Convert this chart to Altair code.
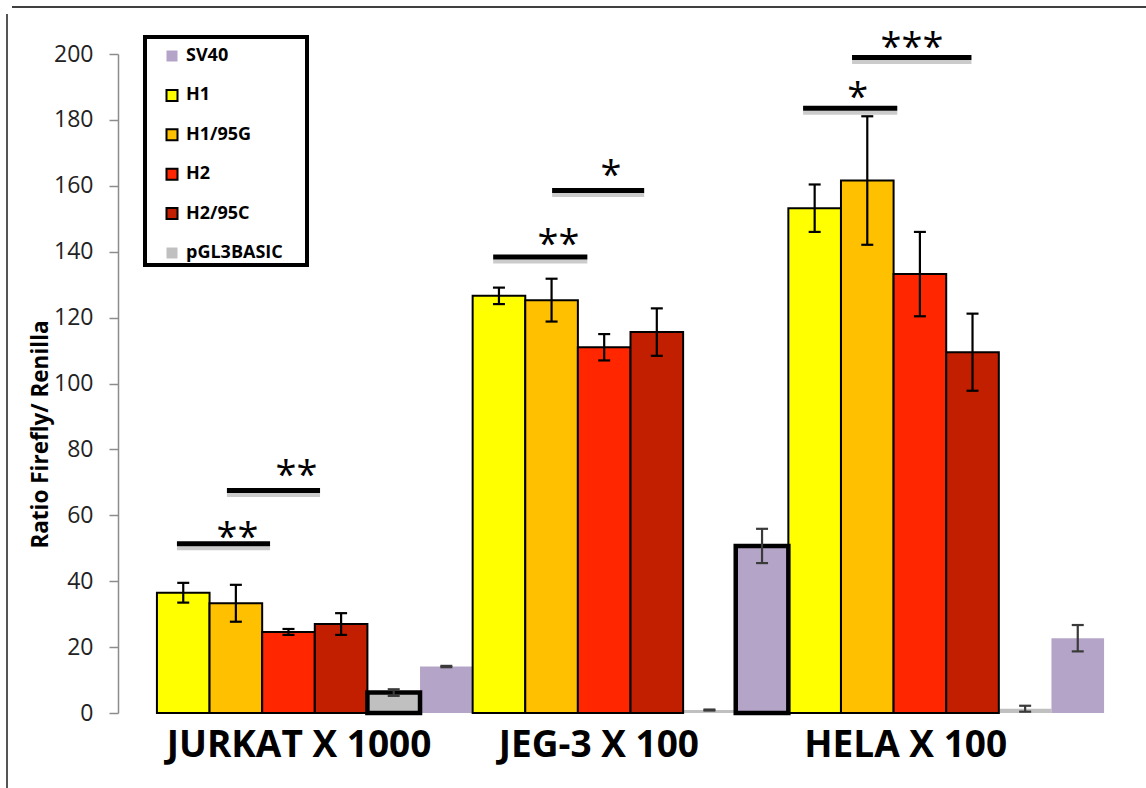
import altair as alt
import pandas as pd

# ---------------- data ----------------
GROUPS = ["JURKAT X 1000", "JEG-3 X 100", "HELA X 100"]
SERIES = ["H1", "H1/95G", "H2", "H2/95C", "pGL3BASIC", "SV40"]          # slot order inside each group
LEGEND_ORDER = ["SV40", "H1", "H1/95G", "H2", "H2/95C", "pGL3BASIC"]
FILL_COLORS = ["#b4a5c8", "#ffff00", "#ffc000", "#ff2600", "#c21e00", "#c0c0c0"]  # in legend order
EDGE_COLORS = ["transparent", "black", "black", "black", "black", "transparent"]

JURKAT_MEAN = [36.5, 33.3, 24.6, 27.0, 6.2, 14.1]
JURKAT_ERR = [3.0, 5.6, 0.9, 3.3, 1.0, 0.2]
JEG3_MEAN = [126.6, 125.3, 111.0, 115.6, 0.9, 50.7]
JEG3_ERR = [2.5, 6.5, 4.0, 7.2, 0.15, 5.2]
HELA_MEAN = [153.2, 161.6, 133.2, 109.5, 1.3, 22.7]
HELA_ERR = [7.2, 19.5, 12.8, 11.7, 0.9, 4.0]

# bars drawn with a heavy outline / without outline (group index, series)
THICK_EDGE = [(0, "pGL3BASIC"), (1, "SV40")]
NO_EDGE = [(0, "SV40"), (1, "pGL3BASIC"), (2, "pGL3BASIC"), (2, "SV40")]

# significance brackets (x in bar-slot units, y in data units)
SIG_X1 = [-0.12, 0.83, 5.89, 7.01, 11.78, 12.71]
SIG_X2 = [1.65, 2.60, 7.68, 8.76, 13.57, 14.98]
SIG_Y = [51.4, 67.5, 138.4, 158.6, 183.5, 198.9]
STAR_X = [1.03, 2.15, 7.13, 8.13, 12.82, 13.85]
STAR_Y = [55.7, 74.4, 144.5, 165.6, 189.1, 204.3]
STAR_TEXT = ["**", "**", "**", "*", "*", "***"]

# group captions
LABEL_X = [2.20, 7.90, 13.73]
LABEL_Y = [-13.35, -13.35, -13.35]

Y_TICKS = list(range(0, 201, 20))

# ---------------- tables ----------------
rows = []
for g, (means, errs) in enumerate([(JURKAT_MEAN, JURKAT_ERR), (JEG3_MEAN, JEG3_ERR), (HELA_MEAN, HELA_ERR)]):
    for s, name in enumerate(SERIES):
        if (g, name) in THICK_EDGE:
            edge = "thick"
        elif (g, name) in NO_EDGE:
            edge = "none"
        else:
            edge = "thin"
        rows.append(dict(group=GROUPS[g], series=name, slot=6 * g + s,
                         value=means[s], err=errs[s], edge=edge))
df = pd.DataFrame(rows)
sig = pd.DataFrame(dict(x1=SIG_X1, x2=SIG_X2, y=SIG_Y, sx=STAR_X, sy=STAR_Y, txt=STAR_TEXT))
labels = pd.DataFrame(dict(x=LABEL_X, y=LABEL_Y, txt=GROUPS))
legend_df = pd.DataFrame(dict(series=LEGEND_ORDER))
one = pd.DataFrame(dict(a=[0]))

FONT = "Open Sans"
xscale = alt.Scale(domain=[-1.24, 18.24], nice=False, zero=False)
yscale = alt.Scale(domain=[0, 200], nice=False)
fill_scale = alt.Scale(domain=LEGEND_ORDER, range=FILL_COLORS)
stroke_scale = alt.Scale(domain=LEGEND_ORDER, range=EDGE_COLORS)

base = alt.Chart(df).transform_calculate(
    x0="datum.slot - 0.5", x1="datum.slot + 0.5", zero="0",
    lo="datum.value - datum.err", hi="datum.value + datum.err",
    errc="(datum.series == 'SV40' || datum.series == 'pGL3BASIC') ? '#3a3a3a' : '#000000'",
)

y_axis = alt.Axis(
    values=Y_TICKS, grid=False, tickSize=9, tickWidth=1.5, tickColor="#8c8c8c",
    domainColor="#8c8c8c", domainWidth=1.5, labelFont=FONT, labelFontSize=23,
    labelColor="#222222", labelPadding=16,
    title="Ratio Firefly/ Renilla", titleFont=FONT, titleFontSize=22.5, titleFontWeight="bold",
    titleColor="black", titleX=-71, titleY=380, titleAngle=270, titleBaseline="alphabetic",
    titleAlign="center",
)


def X(field):
    return alt.X(field, scale=xscale, axis=None)


def Y(field):
    return alt.Y(field, scale=yscale, axis=y_axis)


def bar_layer(kind, **mk):
    return base.transform_filter(f"datum.edge == '{kind}'").mark_rect(**mk).encode(
        x=X("x0:Q"), x2="x1:Q",
        y=Y("value:Q"), y2="zero:Q",
        fill=alt.Fill("series:N", scale=fill_scale, legend=None),
    )


bars_none = bar_layer("none")
bars_thin = bar_layer("thin", stroke="black", strokeWidth=2)
bars_thick = bar_layer("thick", stroke="black", strokeWidth=4.5)

err_v = base.mark_rule(strokeWidth=2.2).encode(
    x=X("slot:Q"), y=Y("lo:Q"), y2="hi:Q",
    color=alt.Color("errc:N", scale=None),
)
err_top = base.mark_rule(strokeWidth=2.2, xOffset=-6, x2Offset=6).encode(
    x=X("slot:Q"), x2="slot:Q", y=Y("hi:Q"),
    color=alt.Color("errc:N", scale=None),
)
err_bot = base.mark_rule(strokeWidth=2.2, xOffset=-6, x2Offset=6).encode(
    x=X("slot:Q"), x2="slot:Q", y=Y("lo:Q"),
    color=alt.Color("errc:N", scale=None),
)

sig_base = alt.Chart(sig)
sig_shadow = sig_base.mark_rule(color="#cbcbcb", strokeWidth=4, yOffset=4.5).encode(
    x=X("x1:Q"), x2="x2:Q", y=Y("y:Q"),
)
sig_line = sig_base.mark_rule(color="black", strokeWidth=5).encode(
    x=X("x1:Q"), x2="x2:Q", y=Y("y:Q"),
)
stars = sig_base.mark_text(font=FONT, fontSize=38, baseline="alphabetic", dy=20.5,
                           align="center", color="black").encode(
    x=X("sx:Q"), y=Y("sy:Q"), text="txt:N",
)

group_text = alt.Chart(labels).mark_text(font=FONT, fontSize=37, fontWeight="bold",
                                         baseline="alphabetic", align="center",
                                         color="black").encode(
    x=X("x:Q"), y=Y("y:Q"), text="txt:N",
)

# legend frame and outer figure frame (decoration)
legend_box = alt.Chart(one).mark_rect(fill="white", stroke="black", strokeWidth=4).encode(
    x=alt.value(27), x2=alt.value(189), y=alt.value(-17), y2=alt.value(211)
)
frame_top = alt.Chart(one).mark_rule(color="black", strokeWidth=1.5).encode(
    x=alt.value(-106), x2=alt.value(1030), y=alt.value(-47)
)
frame_left = alt.Chart(one).mark_rule(color="#555555", strokeWidth=2).encode(
    x=alt.value(-111), y=alt.value(-40), y2=alt.value(740)
)

legend_kw = dict(orient="none", legendX=45, legendY=-7, title=None, symbolType="square",
                 symbolSize=121, symbolStrokeWidth=2, symbolOpacity=1, labelFont=FONT,
                 labelFontSize=18, labelFontWeight="bold", labelColor="black",
                 rowPadding=19.4, labelOffset=5, padding=0)
legend_layer = alt.Chart(legend_df).mark_point(shape="square", filled=True, opacity=0).encode(
    x=alt.value(-3000), y=alt.value(-3000),
    fill=alt.Fill("series:N", scale=fill_scale, legend=alt.Legend(**legend_kw)),
    stroke=alt.Stroke("series:N", scale=stroke_scale, legend=alt.Legend(**legend_kw)),
)

chart = alt.layer(
    legend_layer,
    frame_top, frame_left,
    bars_none, bars_thin, bars_thick,
    err_v, err_top, err_bot,
    sig_shadow, sig_line, stars, group_text,
    legend_box,
).properties(
    width=1025, height=659,
    autosize=alt.AutoSizeParams(type="none"),
    padding={"left": 118, "top": 54, "right": 3, "bottom": 75},
    background="white",
).configure_view(stroke=None)

chart.save("out.html", embed_options={"renderer": "svg", "actions": False})
